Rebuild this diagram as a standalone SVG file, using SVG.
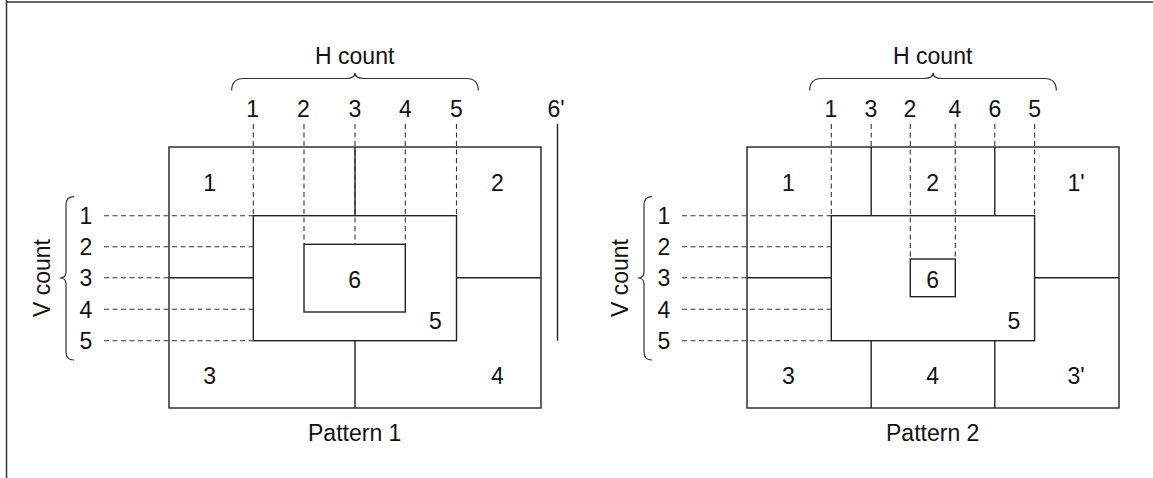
<svg xmlns="http://www.w3.org/2000/svg" width="1153" height="478" viewBox="0 0 1153 478">
<style>
text{font-family:"Liberation Sans",Arial,sans-serif;font-size:23px;fill:#111;text-anchor:middle}
.s{fill:none;stroke:#222;stroke-width:1.4}
.d{fill:none;stroke:#333;stroke-width:1.1;stroke-dasharray:5 3.5}
.b{fill:none;stroke:#333;stroke-width:1.2}
</style>
<rect width="1153" height="478" fill="#fff"/>
<line x1="6" y1="2" x2="1153" y2="2" stroke="#6a6a6a" stroke-width="2"/>
<line x1="6.5" y1="0" x2="6.5" y2="478" stroke="#333" stroke-width="1.5"/>

<g id="pattern1">
  <g id="p1-shapes">
    <rect class="s" x="169" y="147" width="372" height="261"/>
    <rect id="p1-region5" class="s" x="253.3" y="215.7" width="203.2" height="125"/>
    <rect id="p1-region6" class="s" x="304" y="244.3" width="101.3" height="67.7"/>
    <line class="s" x1="355" y1="147" x2="355" y2="215.7"/>
    <line class="s" x1="355" y1="340.7" x2="355" y2="408"/>
    <line class="s" x1="169" y1="277.7" x2="253.3" y2="277.7"/>
    <line class="s" x1="456.5" y1="277.7" x2="541" y2="277.7"/>
    <line class="s" x1="557.5" y1="124" x2="557.5" y2="340.7"/>
  </g>
  <g id="p1-connectors">
    <line class="d" x1="253.3" y1="124" x2="253.3" y2="215.7"/>
    <line class="d" x1="304" y1="124" x2="304" y2="244.3"/>
    <line class="d" x1="355" y1="124" x2="355" y2="244.3"/>
    <line class="d" x1="405.3" y1="124" x2="405.3" y2="244.3"/>
    <line class="d" x1="456.5" y1="124" x2="456.5" y2="215.7"/>
    <line class="d" x1="104" y1="215.7" x2="253.3" y2="215.7"/>
    <line class="d" x1="104" y1="246.7" x2="253.3" y2="246.7"/>
    <line class="d" x1="104" y1="277.7" x2="169" y2="277.7"/>
    <line class="d" x1="104" y1="309.3" x2="253.3" y2="309.3"/>
    <line class="d" x1="104" y1="340.7" x2="253.3" y2="340.7"/>
    <path class="b" d="M231.7,90.5 Q231.7,78.5 243.7,78.5 L346,78.5 Q355,78.5 355,72.8 Q355,78.5 364,78.5 L466.3,78.5 Q478.3,78.5 478.3,90.5"/>
    <path class="b" d="M74,196.7 Q66,196.7 66,205 L66,272 Q66,278 60,278 Q66,278 66,284 L66,352 Q66,360 74,360"/>
  </g>
  <g id="p1-labels">
    <text x="354.7" y="64">H count</text>
    <text x="252.7" y="116.5">1</text>
    <text x="303.5" y="116.5">2</text>
    <text x="355" y="116.5">3</text>
    <text x="405.5" y="116.5">4</text>
    <text x="456.5" y="116.5">5</text>
    <text x="556" y="116.5">6'</text>
    <text x="86" y="224">1</text>
    <text x="86" y="255">2</text>
    <text x="86" y="286">3</text>
    <text x="86" y="317.5">4</text>
    <text x="86" y="349">5</text>
    <text transform="translate(49.5,278) rotate(-90)">V count</text>
    <text x="209.7" y="191">1</text>
    <text x="497.5" y="191">2</text>
    <text x="209.7" y="384">3</text>
    <text x="497.5" y="384">4</text>
    <text x="354.7" y="288">6</text>
    <text x="435.5" y="329">5</text>
    <text x="354.7" y="441">Pattern 1</text>
  </g>
</g>

<g id="pattern2">
  <g id="p2-shapes">
    <rect class="s" x="747" y="147" width="372" height="261"/>
    <rect id="p2-region5" class="s" x="831.3" y="215.7" width="203.3" height="125"/>
    <rect id="p2-region6" class="s" x="910.3" y="259" width="45" height="37.7"/>
    <line class="s" x1="871.2" y1="147" x2="871.2" y2="215.7"/>
    <line class="s" x1="994.8" y1="147" x2="994.8" y2="215.7"/>
    <line class="s" x1="871.2" y1="340.7" x2="871.2" y2="408"/>
    <line class="s" x1="994.8" y1="340.7" x2="994.8" y2="408"/>
    <line class="s" x1="747" y1="277.7" x2="831.3" y2="277.7"/>
    <line class="s" x1="1034.6" y1="277.7" x2="1119" y2="277.7"/>
  </g>
  <g id="p2-connectors">
    <line class="d" x1="831.3" y1="124" x2="831.3" y2="215.7"/>
    <line class="d" x1="871.2" y1="124" x2="871.2" y2="147"/>
    <line class="d" x1="910.3" y1="124" x2="910.3" y2="259"/>
    <line class="d" x1="955.3" y1="124" x2="955.3" y2="259"/>
    <line class="d" x1="994.8" y1="124" x2="994.8" y2="147"/>
    <line class="d" x1="1034.6" y1="124" x2="1034.6" y2="215.7"/>
    <line class="d" x1="682" y1="215.7" x2="831.3" y2="215.7"/>
    <line class="d" x1="682" y1="246.7" x2="831.3" y2="246.7"/>
    <line class="d" x1="682" y1="277.7" x2="747" y2="277.7"/>
    <line class="d" x1="682" y1="309.3" x2="831.3" y2="309.3"/>
    <line class="d" x1="682" y1="340.7" x2="831.3" y2="340.7"/>
    <path class="b" d="M809.7,90.5 Q809.7,78.5 821.7,78.5 L924,78.5 Q933,78.5 933,72.8 Q933,78.5 942,78.5 L1044.3,78.5 Q1056.3,78.5 1056.3,90.5"/>
    <path class="b" d="M652,196.7 Q644,196.7 644,205 L644,272 Q644,278 638,278 Q644,278 644,284 L644,352 Q644,360 652,360"/>
  </g>
  <g id="p2-labels">
    <text x="932.7" y="64">H count</text>
    <text x="831" y="116.5">1</text>
    <text x="871" y="116.5">3</text>
    <text x="910" y="116.5">2</text>
    <text x="955" y="116.5">4</text>
    <text x="995" y="116.5">6</text>
    <text x="1034.6" y="116.5">5</text>
    <text x="664" y="224">1</text>
    <text x="664" y="255">2</text>
    <text x="664" y="286">3</text>
    <text x="664" y="317.5">4</text>
    <text x="664" y="349">5</text>
    <text transform="translate(627.5,278) rotate(-90)">V count</text>
    <text x="788.3" y="191">1</text>
    <text x="932.6" y="191">2</text>
    <text x="1076" y="191">1'</text>
    <text x="788.3" y="384">3</text>
    <text x="932.6" y="384">4</text>
    <text x="1076" y="384">3'</text>
    <text x="932.6" y="288">6</text>
    <text x="1014" y="329">5</text>
    <text x="932.7" y="441">Pattern 2</text>
  </g>
</g>
</svg>
